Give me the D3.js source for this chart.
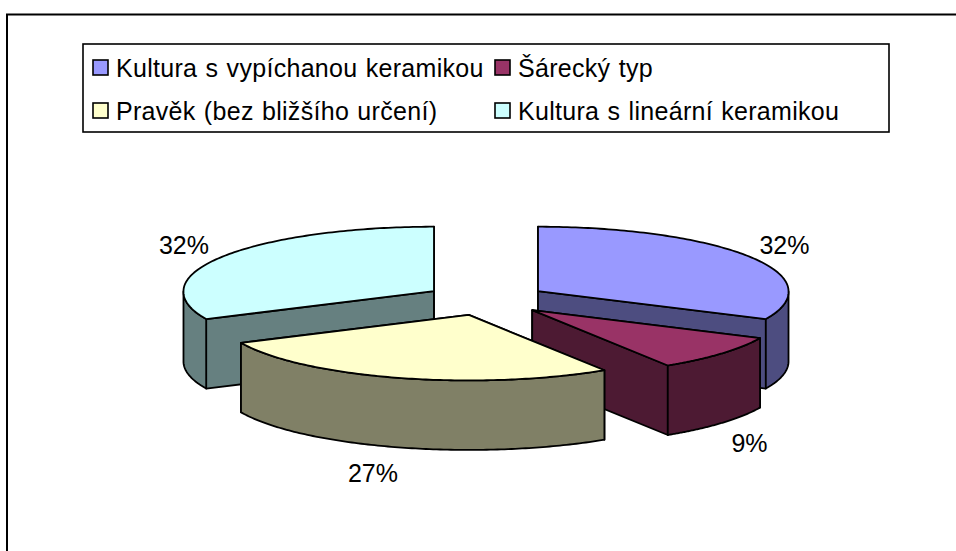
<!DOCTYPE html>
<html>
<head>
<meta charset="utf-8">
<script src="https://cdn.jsdelivr.net/npm/d3@7"></script>
<style>
html,body{margin:0;padding:0;background:#fff;}
svg{display:block;}
text{font-family:"Liberation Sans",Arial,sans-serif;fill:#000;}
</style>
</head>
<body>
<svg id="chart" width="956" height="551"></svg>
<script>
const categories = ["Kultura s vypíchanou keramikou", "Šárecký typ", "Pravěk (bez bližšího určení)", "Kultura s lineární keramikou"];
const values = [32, 9, 27, 32];
const colors = ["#9999FF", "#993366", "#FFFFCC", "#CCFFFF"];
const sideColors = ["#4D4D80", "#4D1A33", "#808066", "#668080"];
const drawOrder = [0, 1, 3, 2];

const W = 956, H = 551;
const cx = 486, cy = 299.7, rx = 250.5, ryBack = 64.5, ryFront = 65.5, depth = 69.5, explode = 61.6, perspective = 0.012;
const svg = d3.select("#chart");

// outer frame
svg.append("path").attr("d", `M7 ${H}V14.5H${W}`).attr("fill", "none").attr("stroke", "#000").attr("stroke-width", 2);

const arcs = d3.pie().sort(null).value(d => d)(values);
const line = d3.line();

function project(a, r, ox, oy, dz) {
  const c = Math.cos(a);
  const ry = c < 0 ? ryFront : ryBack;
  const rxa = rx * (c < 0 ? 1 - perspective * c : 1);
  return [ox + rxa * r * Math.sin(a), oy - ry * r * c + dz];
}

drawOrder.forEach(i => {
  const arc = arcs[i];
  const mid = (arc.startAngle + arc.endAngle) / 2;
  const ox = cx + explode * Math.sin(mid);
  const oy = cy - explode * (ryBack / rx) * Math.cos(mid);
  const g = svg.append("g").attr("stroke", "#000").attr("stroke-width", 1.8).attr("stroke-linejoin", "round");
  const steps = d3.range(0, 121).map(k => arc.startAngle + (arc.endAngle - arc.startAngle) * k / 120);
  // cut walls
  [arc.startAngle, arc.endAngle].forEach(a => {
    const pts = [project(a, 0, ox, oy, 0), project(a, 1, ox, oy, 0), project(a, 1, ox, oy, depth), project(a, 0, ox, oy, depth)];
    g.append("path").attr("d", line(pts) + "Z").attr("fill", sideColors[i]);
  });
  // outer wall: only the front half of the rim
  const front = steps.filter(a => Math.cos(a) <= 0);
  if (front.length) {
    const top = front.map(a => project(a, 1, ox, oy, 0));
    const bottom = front.slice().reverse().map(a => project(a, 1, ox, oy, depth));
    g.append("path").attr("d", line(top.concat(bottom)) + "Z").attr("fill", sideColors[i]);
  }
  // top face
  const face = [project(0, 0, ox, oy, 0)].concat(steps.map(a => project(a, 1, ox, oy, 0)));
  g.append("path").attr("d", line(face) + "Z").attr("fill", colors[i]);
});

// percentage labels
const labelPos = [[784.5, 253.5], [749.5, 452], [373, 482], [184, 253.5]];
values.forEach((v, i) => {
  svg.append("text").attr("x", labelPos[i][0]).attr("y", labelPos[i][1])
    .attr("text-anchor", "middle").attr("font-size", 25).text(v + "%");
});

// legend
svg.append("rect").attr("x", 83).attr("y", 44).attr("width", 806).attr("height", 88)
  .attr("fill", "#fff").attr("stroke", "#000").attr("stroke-width", 1.6);
const legendX = [93, 495], legendY = [60, 103], legendBase = [77, 119.5];
categories.forEach((c, i) => {
  const col = i % 2, row = i >> 1;
  svg.append("rect").attr("x", legendX[col]).attr("y", legendY[row]).attr("width", 15).attr("height", 15)
    .attr("fill", colors[i]).attr("stroke", "#000").attr("stroke-width", 1.6);
  svg.append("text").attr("x", legendX[col] + 23).attr("y", legendBase[row]).attr("font-size", 25)
    .attr("letter-spacing", 0.3).attr("word-spacing", 1).text(c);
});
</script>
</body>
</html>
